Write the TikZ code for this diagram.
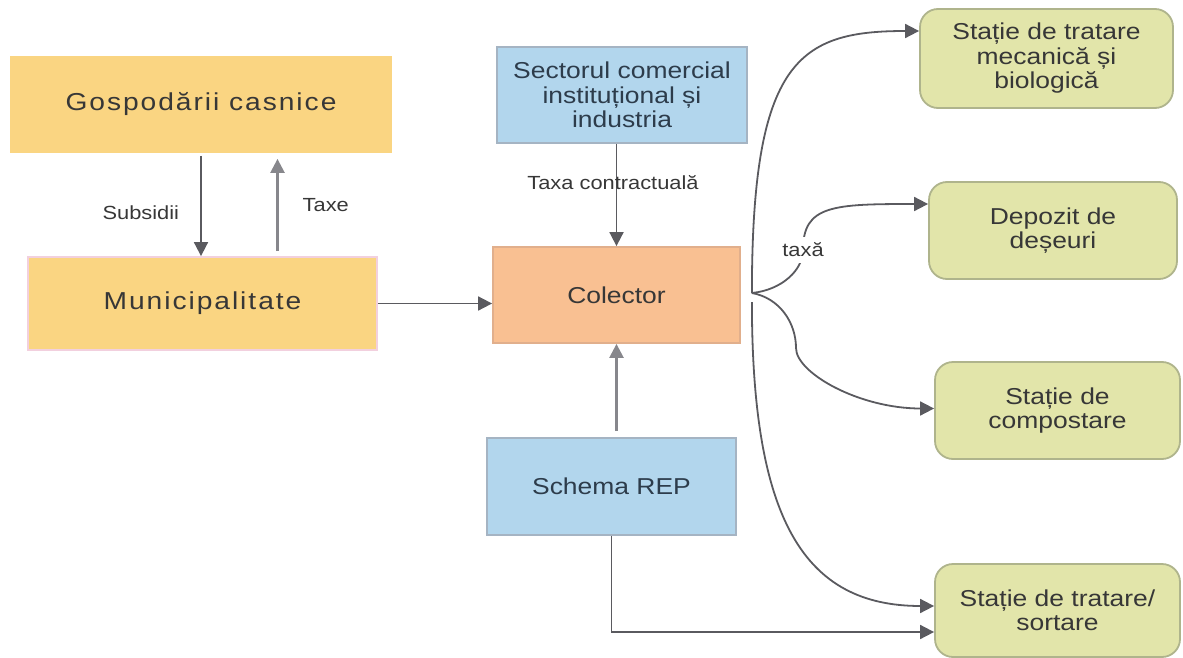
\documentclass[tikz,border=0pt]{standalone}
\usepackage{fontspec}
\setmainfont{Liberation Sans}[FakeStretch=1.15]
\newfontfamily\spacedfont{Liberation Sans}[FakeStretch=1.15,LetterSpace=8]
\usetikzlibrary{arrows.meta,positioning}

\definecolor{housefill}{RGB}{250,213,130}
\definecolor{munidraw}{RGB}{242,208,222}
\definecolor{bluefill}{RGB}{178,214,237}
\definecolor{bluedraw}{RGB}{165,180,195}
\definecolor{colfill}{RGB}{249,192,146}
\definecolor{coldraw}{RGB}{225,175,140}
\definecolor{greenfill}{RGB}{226,229,170}
\definecolor{greendraw}{RGB}{175,180,140}
\definecolor{linegray}{RGB}{90,90,95}
\definecolor{lightline}{RGB}{135,135,140}
\definecolor{textgray}{RGB}{55,55,55}
\definecolor{bluetext}{RGB}{45,60,75}

\begin{document}
\begin{tikzpicture}[
    x = 1pt, y = -1pt, % one unit = one pixel, y downwards
    > = {Triangle[length=14pt,width=14pt]}, % arrow head style
    line width = 1.8pt,
    flow/.style = {draw=linegray, ->},
    upflow/.style = {flow, draw=lightline, line width=2.4pt},
    lbl/.style = {font=\fontsize{19}{22}\selectfont, text=textgray, inner sep=2pt},
    box/.style = {rectangle, inner sep=0pt, align=center, text=textgray,
                  font=\fontsize{23}{24.5}\selectfont},
    housebox/.style = {box, fill=housefill, font=\spacedfont\fontsize{24.5}{26}\selectfont},
    bluebox/.style = {box, fill=bluefill, draw=bluedraw, text=bluetext,
                      minimum width=249pt, minimum height=97pt},
    plantbox/.style = {box, fill=greenfill, draw=greendraw, rounded corners=18pt,
                       minimum width=248pt, minimum height=97pt}
    ]
\useasboundingbox (0,0) rectangle (1183,658);

% left side
\node[housebox, minimum width=382pt, minimum height=97pt] (gosp) at (201,104.5) {Gospodării casnice};
\node[housebox, draw=munidraw, minimum width=349pt, minimum height=93pt] (muni) at (202.5,303.5) {Municipalitate};

% middle column
\node[bluebox, minimum width=250pt, minimum height=96pt] (sect) at (622,95) {Sectorul comercial\\instituțional și\\industria};
\node[box, fill=colfill, draw=coldraw, minimum width=247pt, minimum height=96pt] (col) at (616.5,295) {Colector};
\node[bluebox] (rep) at (611.5,486.5) {Schema REP};

% treatment plants
\node[plantbox, minimum width=253pt, minimum height=99pt] (mbt) at (1046.5,58.5) {Stație de tratare\\mecanică și\\biologică};
\node[plantbox] (dep) at (1053,230.5) {Depozit de\\deșeuri};
\node[plantbox, minimum width=245pt] (comp) at (1057.5,410.5) {Stație de\\compostare};
\node[plantbox, minimum width=245pt, minimum height=93pt] (sort) at (1057.5,610.5) {Stație de tratare/\\sortare};

\coordinate (tx) at ([xshift=75pt]muni.north);
\coordinate (hub) at ([xshift=11pt,yshift=2pt]col.east);
\coordinate (hubb) at ([xshift=11pt,yshift=-7pt]col.east);
\coordinate (taxapt) at (803,250);

\draw[flow, shorten <=2pt] (gosp.south) -- (gosp.south |- muni.north)
    node[lbl, pos=0.58, left=19pt] (subs) {Subsidii};
\draw[upflow, shorten <=5pt, shorten >=5pt] (tx) -- (tx |- gosp.south)
    node[lbl, pos=0.5, right=22pt] (taxe) {Taxe};
\draw[flow] (muni.east) -- (muni.east -| col.west);
\draw[flow] (col.north |- sect.south) -- (col.north)
    node[lbl, pos=0.38, xshift=-3.5pt] (taxc) {Taxa contractuală};
\draw[upflow, shorten <=6pt] (col.south |- rep.north) -- (col.south);
\draw[flow] (rep.south) |- ([yshift=-21.5pt]sort.west);

% fan out of the collector
\draw[flow] (hub) .. controls +(0,-233) and +(-120,0) .. ([yshift=27.5pt]mbt.west);
\draw[flow] (hub) .. controls +(30,-3) and +(0,20) .. (taxapt)
    node[lbl, fill=white, inner xsep=3pt, inner ysep=6pt] (taxa) {taxă}
    .. controls +(0,-45) and +(-95,0) .. ([yshift=26.5pt]dep.west);
\draw[flow] (hub) .. controls +(28,5) and +(0,-25) .. (796,348)
    .. controls +(0,25) and +(-75,0) .. ([yshift=2pt]comp.west);
\draw[flow] (hubb) .. controls +(0,218) and +(-130,0) .. ([yshift=4.5pt]sort.west);
\end{tikzpicture}
\end{document}
